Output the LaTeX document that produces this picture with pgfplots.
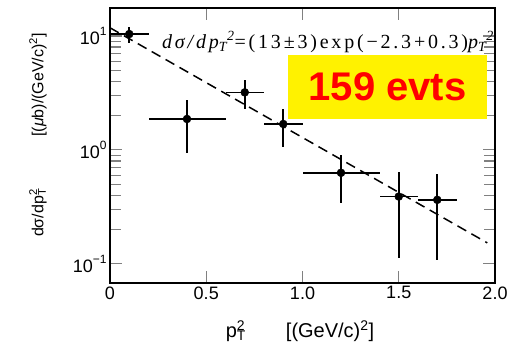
\documentclass[border=0pt]{standalone}
\usepackage{pgfplots}
\pgfplotsset{compat=1.18}
\usepackage{pgfplotstable}
\usepackage{fontspec}
\setmainfont{Liberation Sans}
\newfontfamily\serifit[LetterSpace=14]{Liberation Serif}
\pgfplotstableread{
x    y     ex   eyp   eym
0.1  10.4  0.1  1.6   1.7
0.4  1.87  0.2  0.88  0.93
0.7  3.2   0.1  0.9   0.9
0.9  1.69  0.1  0.61  0.63
1.2  0.63  0.2  0.27  0.29
1.5  0.39  0.1  0.25  0.277
1.7  0.365 0.1  0.255 0.257
}\datatable
\begin{document}
\begin{tikzpicture}[x=1pt,y=1pt]
\path[use as bounding box] (0,0) rectangle (518,354);
\begin{axis}[
  at={(110pt,71pt)}, anchor=south west, scale only axis,
  width=385pt, height=275pt,
  ymode=log, xmin=0, xmax=2, ymin=0.068, ymax=17.6,
  xtick={0,0.5,1,1.5,2},
  xticklabels={0,0.5,1.0,1.5,2.0},
  ytick={0.1,1,10},
  yticklabels={10\raisebox{0.55em}{\fontsize{12}{12}\selectfont −1},10\raisebox{0.55em}{\fontsize{12}{12}\selectfont 0},10\raisebox{0.55em}{\fontsize{12}{12}\selectfont 1}},
  tick label style={font=\fontsize{18}{20}\selectfont},
  axis line style={line width=1.3pt},
  major tick style={line width=1.1pt},
  minor tick style={line width=1.1pt},
  major tick length=12pt, minor tick length=11pt,
  tick align=inside,
  xtick pos=both, ytick pos=both,
  clip=false,
]
\addplot[black, line width=1.5pt, dash pattern=on 10pt off 6pt] coordinates {(0,11.8) (1.96,0.153)};
\addplot[only marks, mark=*, mark size=4pt, black,
  error bars/.cd, x dir=both, x explicit, y dir=both, y explicit,
  error bar style={line width=1.6pt, black}, error mark=none]
  table[x=x, y=y, x error=ex, y error plus=eyp, y error minus=eym]{\datatable};
\end{axis}
\node[rotate=90, font=\fontsize{16}{18}\selectfont] at (38,219) {dσ/dp\rlap{\textsuperscript{2}}\textsubscript{T}\hspace{52pt}[(\textit{μ}b)/(GeV/c)\textsuperscript{2}]};
\node[font=\fontsize{20}{22}\selectfont] at (300,23) {p\rlap{\textsuperscript{2}}\textsubscript{T}\hspace{40pt}[(GeV/c)\textsuperscript{2}]};
\node[anchor=west, inner sep=0pt, font=\fontsize{20}{22}\selectfont\serifit] at (162,312) {\itshape dσ/dp\textsubscript{T}\textsuperscript{2}\upshape=(13±3)exp(−2.3+0.3)\itshape p\textsubscript{T}\textsuperscript{2}};
\node[fill=yellow, minimum width=199pt, minimum height=64pt, inner sep=0pt, text=red, font=\fontsize{40}{42}\selectfont\bfseries] at (387.5,267) {159 evts};
\end{tikzpicture}
\end{document}
